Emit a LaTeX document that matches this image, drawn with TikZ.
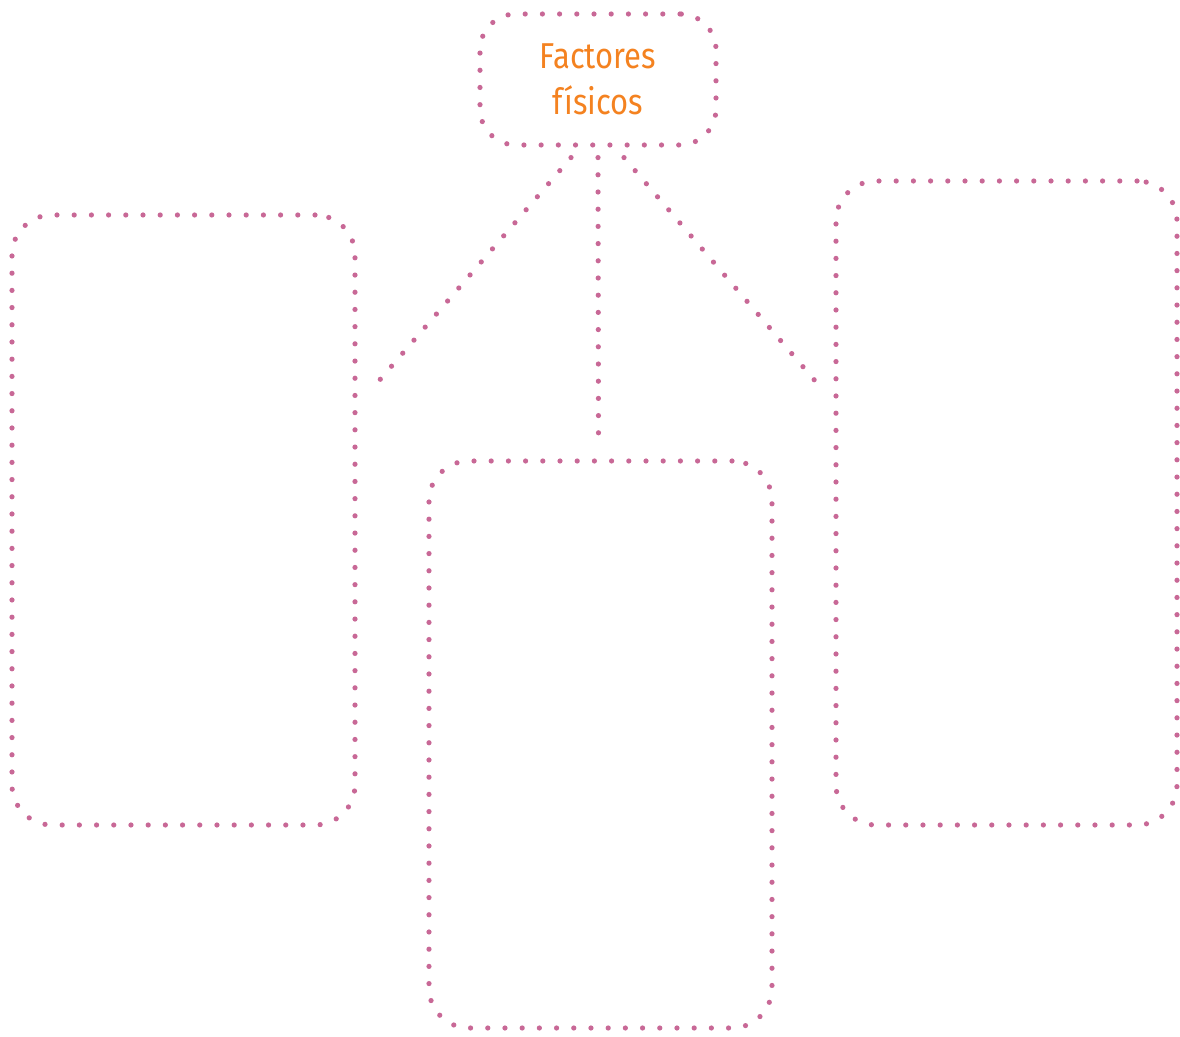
\documentclass[tikz,border=0pt]{standalone}
\usepackage{fontspec}
\setsansfont{Fira Sans}[FakeStretch=0.86]
\usepackage{tikz}
\usetikzlibrary{positioning, calc}
\definecolor{dotpink}{RGB}{200,104,150}
\definecolor{titleorange}{RGB}{244,130,32}

\begin{document}
\begin{tikzpicture}[x=0.5pt,y=-0.5pt,
 dot_line/.style={draw=dotpink,line width=2.6pt,line cap=round,dash pattern=on 0pt off 8.6pt},
 box_node/.style={dot_line,rounded corners=20pt,minimum width=171.5pt,inner sep=0pt},
 title_node/.style={dot_line,rounded corners=18pt,minimum width=118pt,minimum height=65.5pt,align=center,
   text=titleorange,font=\sffamily\fontsize{18}{23}\selectfont}]

\useasboundingbox (0,0) rectangle (1180,1037);

\node[title_node] (fis) at (598,79.5) {Factores\\físicos};

\node[box_node,minimum height=305pt] (izq) at (183.5,520) {};
\node[box_node,minimum height=283.5pt] (med) at (600.5,744.5) {};
\node[box_node,minimum width=170.5pt,minimum height=322pt] (der) at (1006.5,503) {};

% links from the title to the boxes
\path[dot_line]
 ($(fis.south)+(-27,10)$) edge ($(izq.north east)+(14,177)$)
 ($(fis.south)+(0,10)$) edge ($(med.north)+(-2,-12)$)
 ($(fis.south)+(26,10)$) edge ($(der.north west)+(-11,211)$);

\end{tikzpicture}
\end{document}
